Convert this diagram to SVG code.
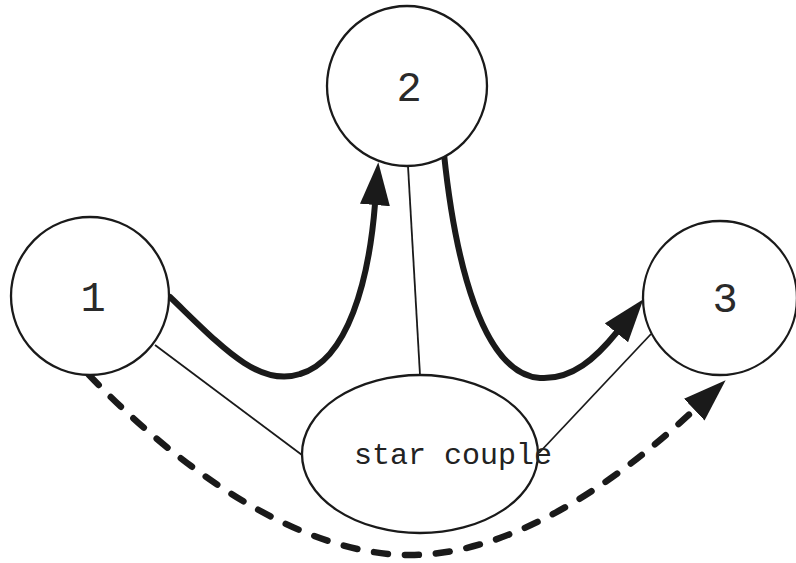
<svg xmlns="http://www.w3.org/2000/svg" width="796" height="563" viewBox="0 0 796 563">
  <style>
    .node { fill: #fff; stroke: #1a1a1a; stroke-width: 2.3; }
    .num { font-family: "Liberation Mono", "DejaVu Sans Mono", monospace; font-size: 42px; fill: #2a2a2a; text-anchor: middle; }
    .label { font-family: "Liberation Mono", "Courier New", monospace; font-size: 30px; fill: #222; }
    .thin { fill: none; stroke: #1a1a1a; stroke-width: 1.8; }
    .thick { fill: none; stroke: #1a1a1a; stroke-width: 6; stroke-linecap: round; }
    .dashed { fill: none; stroke: #1a1a1a; stroke-width: 6.5; stroke-linecap: round; stroke-dasharray: 14 17; }
  </style>
  <defs>
    <marker id="head" markerUnits="userSpaceOnUse" markerWidth="46" markerHeight="32" refX="1" refY="15" orient="auto">
      <path d="M0,0 L43,15 L0,30 z" fill="#1a1a1a"/>
    </marker>
  </defs>
  <rect width="796" height="563" fill="#fff"/>

  <g id="connectors">
    <!-- star coupler spokes -->
    <line class="thin" x1="155" y1="345" x2="302" y2="455"/>
    <line class="thin" x1="408" y1="166" x2="420" y2="375"/>
    <line class="thin" x1="651" y1="334" x2="539" y2="453"/>
    <!-- 1 to 2 -->
    <path class="thick" d="M170,297 C220,345 258,388 300,374 C348,360 369,280 375,204" marker-end="url(#head)"/>
    <!-- 2 to 3 -->
    <path class="thick" d="M444,154 C455,260 482,374 540,378 C572,380 596,358 617,332" marker-end="url(#head)"/>
    <!-- 1 to 3 via bottom -->
    <path class="dashed" d="M89,375 C180,470 300,555 410,555 C520,555 630,470 695,409" marker-end="url(#head)"/>
  </g>

  <g id="node-1">
    <circle class="node" cx="90" cy="296" r="79"/>
    <text class="num" x="93" y="311">1</text>
  </g>
  <g id="node-2">
    <circle class="node" cx="407" cy="86" r="80"/>
    <text class="num" x="409" y="101">2</text>
  </g>
  <g id="node-3">
    <circle class="node" cx="720" cy="298" r="77"/>
    <text class="num" x="725" y="312">3</text>
  </g>
  <g id="star-coupler">
    <ellipse class="node" cx="420" cy="454" rx="118" ry="79"/>
    <text class="label" x="354" y="464">star couple</text>
  </g>
</svg>
